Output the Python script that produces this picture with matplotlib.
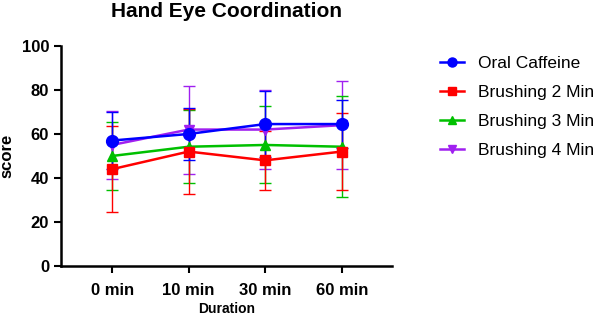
import numpy as np
import matplotlib.pyplot as plt
from matplotlib.lines import Line2D

plt.rcParams['font.family'] = ['Liberation Sans', 'DejaVu Sans']

durations = ["0 min", "10 min", "30 min", "60 min"]

caffeine = [57, 60, 64.5, 64.5]
caffeine_err = [13, 12, 15, 11]
brush2 = [44, 52, 48, 52]
brush2_err = [19.5, 19.5, 13.5, 17.5]
brush3 = [50, 54.2, 55, 54.2]
brush3_err = [15.5, 16.5, 17.5, 23]
brush4 = [55, 62, 62, 64]
brush4_err = [15.5, 20, 18, 20]

x = np.arange(len(durations))

fig = plt.figure(figsize=(5.98, 3.17), dpi=100)
ax = fig.add_axes([0.102, 0.161, 0.554, 0.694])

ax.errorbar(x, brush4, yerr=brush4_err, color='#A020F0', marker='v', markersize=7,
            lw=1.8, elinewidth=1, capsize=4, capthick=1)
ax.errorbar(x, brush3, yerr=brush3_err, color='#00C000', marker='^', markersize=7,
            lw=1.8, elinewidth=1, capsize=4, capthick=1)
ax.errorbar(x, brush2, yerr=brush2_err, color='#FF0000', marker='s', markersize=7,
            lw=1.8, elinewidth=1, capsize=4, capthick=1)
ax.errorbar(x, caffeine, yerr=caffeine_err, color='#0000FF', marker='o', markersize=8.5,
            lw=1.8, elinewidth=1, capsize=4, capthick=1)

ax.set_xlim(-0.667, 3.66)
ax.set_ylim(0, 100)
ax.set_yticks([0, 20, 40, 60, 80, 100])
ax.set_xticks(x)
ax.set_xticklabels(durations)
for s in ['top', 'right']:
    ax.spines[s].set_visible(False)
for s in ['left', 'bottom']:
    ax.spines[s].set_linewidth(1.8)
ax.tick_params(width=1.5, length=5, labelsize=12)
ax.tick_params(axis='x', pad=7)
for lab in ax.get_xticklabels() + ax.get_yticklabels():
    lab.set_fontweight('bold')

ax.set_ylabel("score", fontsize=12, fontweight='bold')
ax.yaxis.set_label_coords(-0.14, 0.5)
ax.set_xlabel("Duration", fontsize=10, fontweight='bold')
ax.xaxis.set_label_coords(0.5, -0.165)
fig.text(0.379, 0.965, "Hand Eye Coordination", fontsize=15, fontweight='bold',
         ha='center', va='center')

handles = [Line2D([], [], color='#0000FF', marker='o', markersize=6.5, lw=1.8),
           Line2D([], [], color='#FF0000', marker='s', markersize=6, lw=1.8),
           Line2D([], [], color='#00C000', marker='^', markersize=6, lw=1.8),
           Line2D([], [], color='#A020F0', marker='v', markersize=6, lw=1.8)]
fig.legend(handles, ["Oral Caffeine", "Brushing 2 Min", "Brushing 3 Min", "Brushing 4 Min"],
           loc='upper left', bbox_to_anchor=(0.725, 0.845), frameon=False, fontsize=12.5,
           handlelength=1.35, handletextpad=0.8, labelspacing=0.8, borderaxespad=0)

fig.savefig("out.png", dpi=100)
